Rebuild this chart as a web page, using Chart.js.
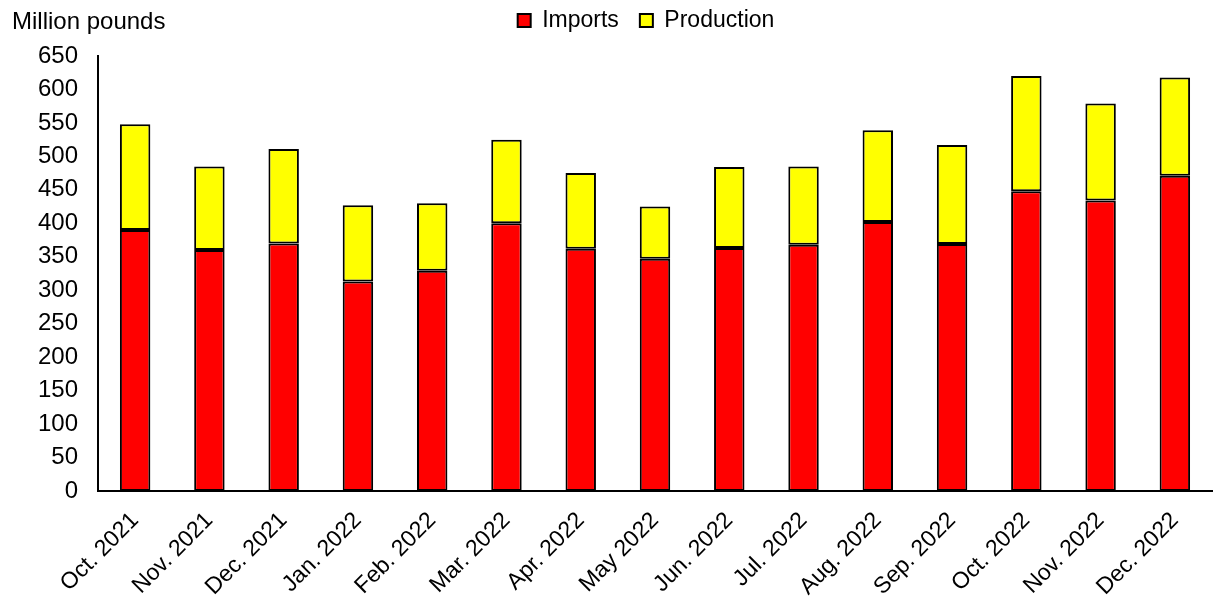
<!DOCTYPE html>
<html><head><meta charset="utf-8">
<script src="https://cdn.jsdelivr.net/npm/chart.js@4"></script>
<style>html,body{margin:0;padding:0;background:#fff}#wrap{width:1213px;height:596px;position:relative}</style>
</head><body><div id="wrap"><canvas id="c"></canvas></div>
<script>
const categories = ["Oct. 2021","Nov. 2021","Dec. 2021","Jan. 2022","Feb. 2022","Mar. 2022","Apr. 2022","May 2022","Jun. 2022","Jul. 2022","Aug. 2022","Sep. 2022","Oct. 2022","Nov. 2022","Dec. 2022"];
const imports = [390, 360, 370, 313, 329, 400, 362, 347, 363, 368, 402, 369, 448, 434, 471];
const production = [158, 125, 141, 114, 101, 125, 113, 78, 121, 117, 137, 148, 172, 145, 147];
const yAxisTitle = "Million pounds";
const yMin = 0, yMax = 650, yStep = 50;

const FONT = "'Liberation Sans', Arial, sans-serif";
Chart.defaults.font.family = FONT;
Chart.defaults.color = "#000";

const extras = {
  id: 'extras',
  afterUpdate(chart) {
    const lg = chart.legend;
    if (lg) {
      lg.left += 80;
      const shift = lg.top - (-12);
      lg.top -= shift; lg.bottom -= shift;
    }
  },
  afterDraw(chart) {
    const ctx = chart.ctx;
    ctx.save();
    ctx.font = "24px " + FONT;
    ctx.fillStyle = "#000";
    ctx.textAlign = "left";
    ctx.textBaseline = "middle";
    ctx.fillText(yAxisTitle, 12, 22);
    ctx.restore();
  }
};

new Chart(document.getElementById('c'), {
  type: 'bar',
  data: {
    labels: categories,
    datasets: [
      { label: 'Imports', data: imports, backgroundColor: '#FF0000', borderColor: '#000', borderWidth: 2, borderSkipped: false, inflateAmount: 0 },
      { label: 'Production', data: production, backgroundColor: '#FFFF00', borderColor: '#000', borderWidth: 2, borderSkipped: false, inflateAmount: 0 }
    ]
  },
  options: {
    responsive: true,
    maintainAspectRatio: false,
    animation: false,
    layout: { padding: { top: 2, right: 1, left: 0, bottom: 0 } },
    datasets: { bar: { categoryPercentage: 1.0, barPercentage: 0.41 } },
    plugins: {
      legend: {
        position: 'top',
        labels: { font: { size: 23 }, boxWidth: 13, boxHeight: 13, padding: 21, color: '#000' }
      },
      tooltip: { enabled: false }
    },
    scales: {
      x: {
        stacked: true,
        grid: { display: false, drawTicks: false },
        border: { display: true, color: '#000', width: 2 },
        ticks: { font: { size: 23 }, color: '#000', maxRotation: 45, minRotation: 45, padding: 16, autoSkip: false },
        afterFit(scale) { scale.height = 105; }
      },
      y: {
        stacked: true,
        min: yMin, max: yMax,
        grid: { display: false, drawTicks: false },
        border: { display: true, color: '#000', width: 2 },
        ticks: { font: { size: 24 }, color: '#000', stepSize: yStep, padding: 20 },
        afterFit(scale) { scale.width = 98; }
      }
    }
  },
  plugins: [extras]
});
</script>
</body></html>
